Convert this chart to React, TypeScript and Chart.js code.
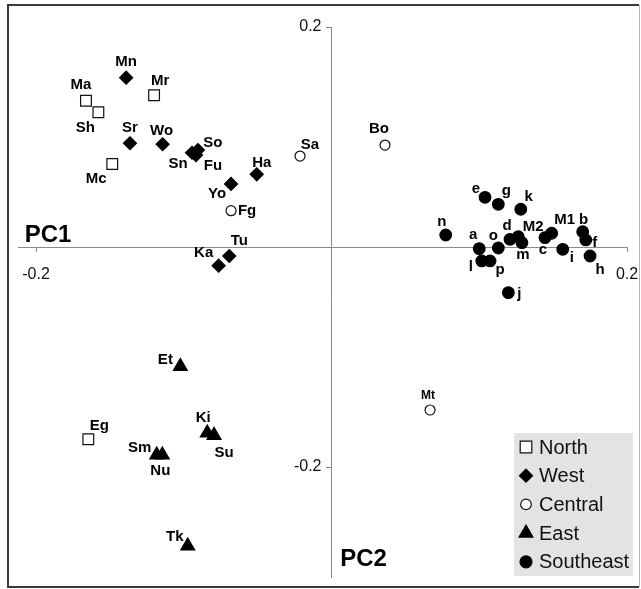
import React, { useEffect, useRef } from 'react';
import { Chart, registerables } from 'chart.js';

Chart.register(...registerables);

const FONT = '"Liberation Sans", Arial, Helvetica, sans-serif';

const groupNames = ['North', 'West', 'Central', 'East', 'Southeast'];

const northNames = ['Ma', 'Sh', 'Mr', 'Mc', 'Eg'];
const northPC1 = [-0.1662, -0.1578, -0.1201, -0.1484, -0.1646];
const northPC2 = [0.133, 0.1225, 0.1379, 0.0755, -0.1748];

const westNames = ['Mn', 'Sr', 'Wo', 'Sn', 'So', 'Fu', 'Ha', 'Yo', 'Tu', 'Ka'];
const westPC1 = [-0.139, -0.1364, -0.1143, -0.0944, -0.0904, -0.0917, -0.0506, -0.068, -0.0692, -0.0764];
const westPC2 = [0.1539, 0.0943, 0.0934, 0.0857, 0.0882, 0.0836, 0.0661, 0.0573, -0.0082, -0.017];

const centralNames = ['Sa', 'Fg', 'Bo', 'Mt'];
const centralPC1 = [-0.0213, -0.068, 0.0362, 0.0667];
const centralPC2 = [0.0827, 0.033, 0.0927, -0.1482];

const eastNames = ['Et', 'Ki', 'Su', 'Sm', 'Nu', 'Tk'];
const eastPC1 = [-0.1023, -0.0841, -0.0795, -0.1183, -0.1145, -0.0973];
const eastPC2 = [-0.1086, -0.1691, -0.1712, -0.1891, -0.1891, -0.2718];

const southeastNames = ['a', 'b', 'c', 'd', 'e', 'f', 'g', 'h', 'i', 'j', 'k', 'l', 'm', 'n', 'o', 'p', 'M1', 'M2'];
const southeastPC1 = [0.1, 0.17, 0.1445, 0.1208, 0.1039, 0.1721, 0.1129, 0.175, 0.1565, 0.1197, 0.1281, 0.1017, 0.1289, 0.0773, 0.1129, 0.1073, 0.149, 0.1264];
const southeastPC2 = [-0.0015, 0.0139, 0.0085, 0.007, 0.0452, 0.0064, 0.0388, -0.0082, -0.0021, -0.0415, 0.0343, -0.0127, 0.0039, 0.0109, -0.0009, -0.0127, 0.0125, 0.0094];

const xTickValues = [-0.2, 0.2];
const yTickValues = [-0.2, 0.2];
const axisTitles = ['PC1', 'PC2'];

// label placement (pixel offsets from the marker), annotation layout only
const labelOffsets: Record<string, [number, number]> = {
  Ma: [-5, -16], Sh: [-13, 16], Mr: [6, -14], Mc: [-16, 15], Eg: [11, -13],
  Mn: [0, -16], Sr: [0, -15], Wo: [-1, -13], Sn: [-14, 11], So: [15, -7], Fu: [17, 11],
  Ha: [5, -11], Yo: [-14, 10], Tu: [10, -15], Ka: [-15, -13],
  Sa: [10, -11], Fg: [16, 0], Bo: [-6, -16], Mt: [-2, -14],
  Et: [-15, -7], Ki: [-4, -15], Su: [10, 18], Sm: [-17, -7], Nu: [-2, 16], Tk: [-13, -9],
  a: [-6, -14], b: [1, -12], c: [-2, 12], d: [-3, -13], e: [-9, -8], f: [9, 3], g: [8, -13],
  h: [10, 14], i: [9, 9], j: [11, 1], k: [8, -12], l: [-11, 6], m: [1, 12], n: [-4, -13],
  o: [-5, -12], p: [10, 9], M1: [13, -13], M2: [15, -10],
};

const groupStyles = [
  { pointStyle: 'rect', radius: 7.6, fill: '#ffffff', stroke: '#111111', legendRadius: 8.2 },
  { pointStyle: 'rectRot', radius: 6.5, fill: '#000000', stroke: '#000000', legendRadius: 6.5 },
  { pointStyle: 'circle', radius: 5, fill: '#ffffff', stroke: '#111111', legendRadius: 5.3 },
  { pointStyle: 'triangle', radius: 8, fill: '#000000', stroke: '#000000', legendRadius: 8 },
  { pointStyle: 'circle', radius: 5.8, fill: '#000000', stroke: '#000000', legendRadius: 6 },
];

const groupData = [
  [northNames, northPC1, northPC2],
  [westNames, westPC1, westPC2],
  [centralNames, centralPC1, centralPC2],
  [eastNames, eastPC1, eastPC2],
  [southeastNames, southeastPC1, southeastPC2],
] as [string[], number[], number[]][];

const zeroPadding = (s: any) => {
  s.paddingLeft = 0;
  s.paddingRight = 0;
  s.paddingTop = 0;
  s.paddingBottom = 0;
};

function drawMarker(ctx: CanvasRenderingContext2D, style: string, r: number, x: number, y: number) {
  ctx.beginPath();
  if (style === 'rect') {
    const s = Math.SQRT1_2 * r;
    ctx.rect(x - s, y - s, 2 * s, 2 * s);
  } else if (style === 'rectRot') {
    ctx.moveTo(x, y - r);
    ctx.lineTo(x + r, y);
    ctx.lineTo(x, y + r);
    ctx.lineTo(x - r, y);
    ctx.closePath();
  } else if (style === 'triangle') {
    const a = (2 * Math.PI) / 3;
    ctx.moveTo(x, y - r);
    ctx.lineTo(x + Math.sin(a) * r, y - Math.cos(a) * r);
    ctx.lineTo(x + Math.sin(2 * a) * r, y - Math.cos(2 * a) * r);
    ctx.closePath();
  } else {
    ctx.arc(x, y, r, 0, Math.PI * 2);
  }
  ctx.fill();
  ctx.stroke();
}

const annotatePlugin = {
  id: 'annotate',
  afterDatasetsDraw(chart: any) {
    const ctx = chart.ctx;
    ctx.save();
    ctx.fillStyle = '#000';
    ctx.textAlign = 'center';
    ctx.textBaseline = 'middle';
    chart.data.datasets.forEach((ds: any, di: number) => {
      const meta = chart.getDatasetMeta(di);
      meta.data.forEach((el: any, i: number) => {
        const name = ds.names[i];
        const off = labelOffsets[name] || [0, -14];
        ctx.font = `bold ${name === 'Mt' ? 12 : 15}px ${FONT}`;
        ctx.fillText(name, el.x + off[0], el.y + off[1]);
      });
    });
    ctx.restore();
  },
  afterDraw(chart: any) {
    const ctx = chart.ctx;
    const xs = chart.scales.x;
    const ys = chart.scales.y;
    const area = chart.chartArea;
    ctx.save();

    // y tick labels, right-aligned to the left of the vertical axis
    const axisX = xs.getPixelForValue(0);
    ctx.fillStyle = '#111';
    ctx.font = `16px ${FONT}`;
    ctx.textAlign = 'right';
    ctx.textBaseline = 'middle';
    yTickValues.forEach((v) => {
      ctx.fillText(String(v), axisX - 10, ys.getPixelForValue(v));
    });

    // axis titles
    ctx.fillStyle = '#000';
    ctx.font = `bold 24px ${FONT}`;
    ctx.textAlign = 'center';
    ctx.textBaseline = 'middle';
    ctx.fillText(axisTitles[0], area.left + 30, ys.getPixelForValue(0) - 12);
    ctx.fillText(axisTitles[1], axisX + 32, area.bottom - 18);

    // legend
    const lx = 514, ly = 433, lw = 119, lh = 143;
    ctx.fillStyle = '#e3e3e3';
    ctx.fillRect(lx, ly, lw, lh);
    ctx.font = `20px ${FONT}`;
    ctx.textAlign = 'left';
    ctx.textBaseline = 'middle';
    chart.data.datasets.forEach((ds: any, di: number) => {
      const st = groupStyles[di];
      const cy = ly + 14 + di * 28.7;
      ctx.save();
      ctx.fillStyle = st.fill;
      ctx.strokeStyle = st.stroke;
      ctx.lineWidth = 1.2;
      drawMarker(ctx, st.pointStyle, st.legendRadius, lx + 12, cy);
      ctx.restore();
      ctx.fillStyle = '#111';
      ctx.fillText(ds.label, lx + 25, cy + 1);
    });

    // outer frame
    ctx.strokeStyle = '#3a3a3a';
    ctx.lineWidth = 2;
    ctx.beginPath();
    ctx.moveTo(639, 5);
    ctx.lineTo(8, 5);
    ctx.lineTo(8, 587);
    ctx.lineTo(639, 587);
    ctx.stroke();
    ctx.strokeStyle = '#b5b5b5';
    ctx.lineWidth = 1;
    ctx.beginPath();
    ctx.moveTo(639.5, 5);
    ctx.lineTo(639.5, 587);
    ctx.stroke();
    ctx.restore();
  },
};

export default function App() {
  const canvasRef = useRef<HTMLCanvasElement | null>(null);

  useEffect(() => {
    if (!canvasRef.current) return;
    const datasets = groupData.map(([names, xs, ys], gi) => ({
      label: groupNames[gi],
      names,
      data: xs.map((x, i) => ({ x, y: ys[i] })),
      pointStyle: groupStyles[gi].pointStyle,
      pointRadius: groupStyles[gi].radius,
      pointHoverRadius: groupStyles[gi].radius,
      backgroundColor: groupStyles[gi].fill,
      borderColor: groupStyles[gi].stroke,
      pointBorderWidth: 1.2,
      showLine: false,
    }));

    const chart = new Chart(canvasRef.current, {
      type: 'scatter',
      data: { datasets: datasets as any },
      options: {
        responsive: false,
        animation: false,
        events: [],
        layout: { padding: { left: 18, right: 14, top: 27, bottom: 12 } },
        plugins: { legend: { display: false }, tooltip: { enabled: false } },
        scales: {
          x: {
            type: 'linear',
            min: -0.2122,
            max: 0.2,
            position: { y: 0 } as any,
            afterBuildTicks: (s: any) => {
              s.ticks = xTickValues.map((v) => ({ value: v }));
            },
            afterFit: zeroPadding,
            grid: { display: true, drawOnChartArea: false, drawTicks: true, tickLength: 4, color: '#8a8a8a' },
            border: { display: true, color: '#8a8a8a', width: 1 },
            ticks: {
              autoSkip: false,
              maxRotation: 0,
              padding: 14,
              color: '#111',
              font: { family: FONT, size: 16 },
              callback: (v: any) => String(v),
            },
          },
          y: {
            type: 'linear',
            min: -0.3,
            max: 0.2,
            position: { x: 0 } as any,
            afterBuildTicks: (s: any) => {
              s.ticks = yTickValues.map((v) => ({ value: v }));
            },
            afterFit: zeroPadding,
            grid: { display: true, drawOnChartArea: false, drawTicks: true, tickLength: 5, color: '#8a8a8a' },
            border: { display: true, color: '#8a8a8a', width: 1 },
            ticks: { display: false },
          },
        },
      },
      plugins: [annotatePlugin],
    });
    return () => chart.destroy();
  }, []);

  return (
    <div style={{ position: 'absolute', left: 0, top: 0, width: 641, height: 589, background: '#fff' }}>
      <canvas ref={canvasRef} width={641} height={589} style={{ display: 'block' }} />
    </div>
  );
}
